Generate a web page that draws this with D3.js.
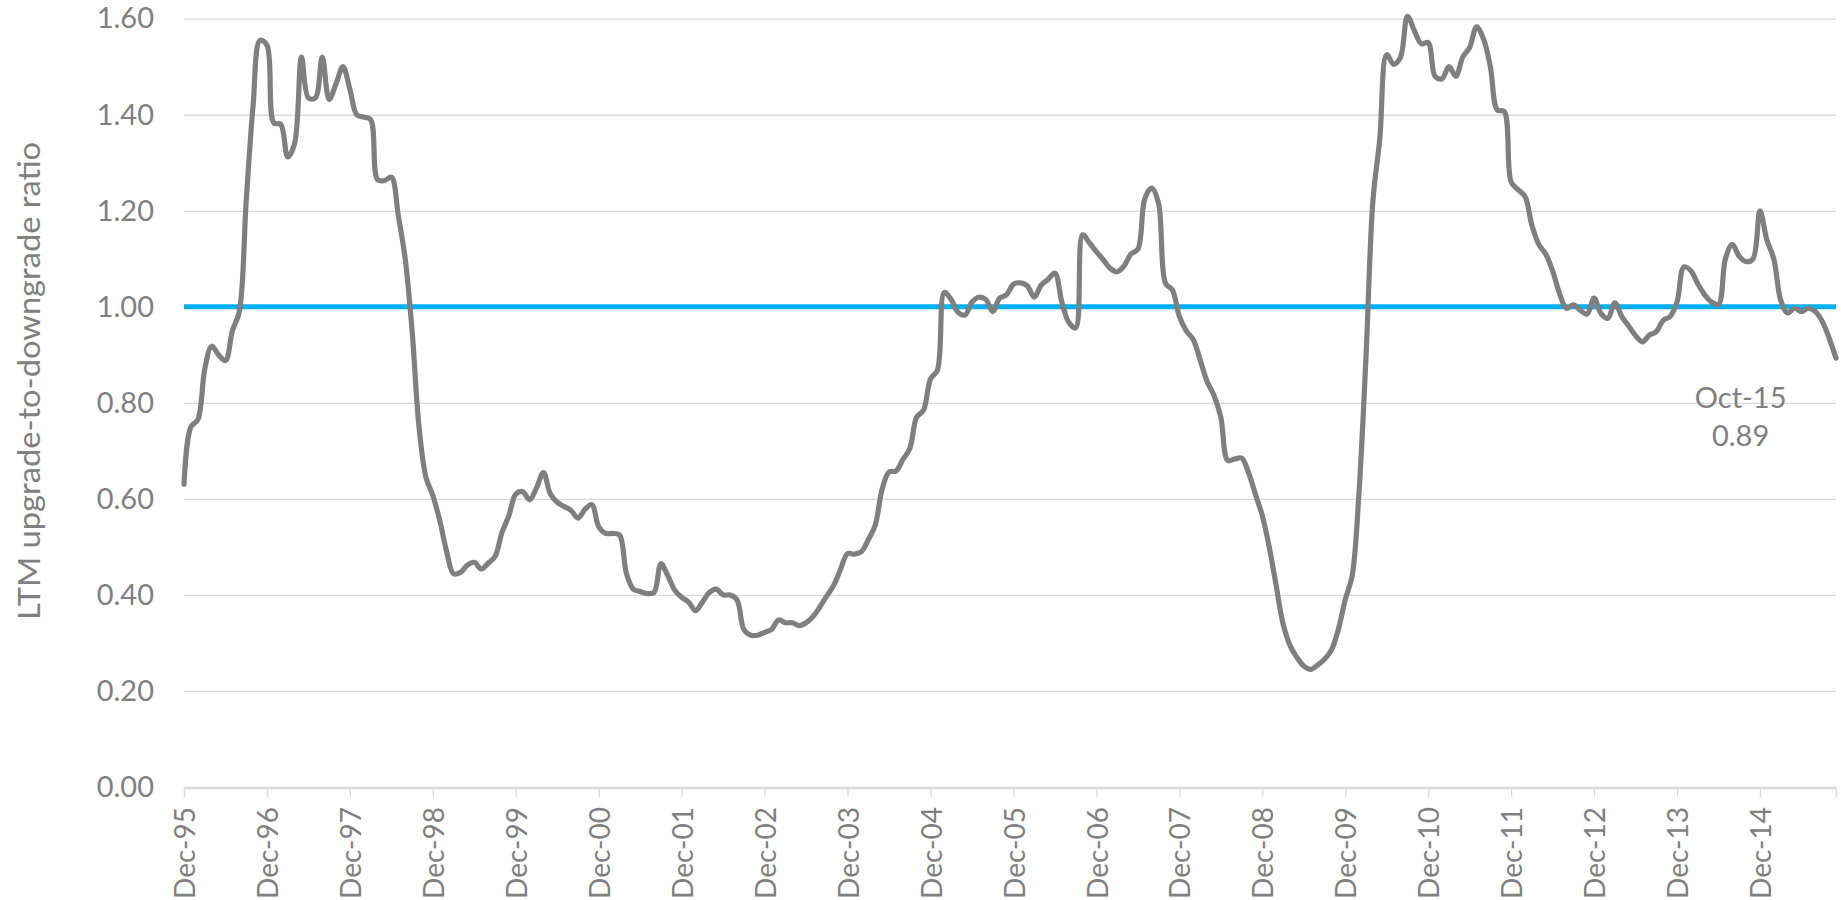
<!DOCTYPE html>
<html>
<head>
<meta charset="utf-8">
<script src="https://cdn.jsdelivr.net/npm/d3@7"></script>
<style>
  html, body { margin: 0; padding: 0; background: #ffffff; }
  svg { display: block; font-family: Lato, "Open Sans", sans-serif; }
</style>
</head>
<body>
<svg id="chart" width="1841" height="900"></svg>
<script>
// Monthly LTM upgrade-to-downgrade ratio, starting Dec-95
const ratioValues = [
  0.63, 0.75, 0.765, 0.87, 0.918, 0.90, 0.888, 0.95, 0.99, 1.22,
  1.42, 1.555, 1.545, 1.383, 1.38, 1.312, 1.34, 1.52, 1.435, 1.435,
  1.52, 1.432, 1.465, 1.50, 1.453, 1.40, 1.395, 1.39, 1.265, 1.263,
  1.27, 1.19, 1.10, 0.95, 0.75, 0.645, 0.607, 0.555, 0.49, 0.444,
  0.447, 0.462, 0.468, 0.454, 0.466, 0.48, 0.53, 0.565, 0.61, 0.615,
  0.598, 0.623, 0.655, 0.61, 0.593, 0.584, 0.576, 0.56, 0.578, 0.588,
  0.542, 0.528, 0.528, 0.525, 0.445, 0.412, 0.407, 0.403, 0.405, 0.465,
  0.44, 0.41, 0.395, 0.385, 0.367, 0.385, 0.405, 0.412, 0.40, 0.40,
  0.39, 0.328, 0.316, 0.316, 0.322, 0.328, 0.348, 0.342, 0.342, 0.336,
  0.342, 0.355, 0.375, 0.398, 0.42, 0.454, 0.486, 0.485, 0.49, 0.515,
  0.545, 0.62, 0.656, 0.658, 0.682, 0.705, 0.77, 0.785, 0.85, 0.868,
  1.03, 1.015, 0.988, 0.983, 1.01, 1.02, 1.015, 0.99, 1.018, 1.025,
  1.047, 1.05, 1.044, 1.02, 1.045, 1.057, 1.07, 1.01, 0.968, 0.956,
  1.15, 1.133, 1.115, 1.098, 1.08, 1.073, 1.085, 1.11, 1.12, 1.225,
  1.247, 1.215, 1.049, 1.035, 0.98, 0.95, 0.932, 0.89, 0.845, 0.816,
  0.77, 0.68, 0.683, 0.685, 0.655, 0.61, 0.565, 0.50, 0.42, 0.34,
  0.295, 0.27, 0.252, 0.245, 0.254, 0.266, 0.285, 0.328, 0.39, 0.44,
  0.616, 0.895, 1.22, 1.35, 1.525, 1.505, 1.52, 1.605, 1.575, 1.548,
  1.55, 1.48, 1.475, 1.50, 1.48, 1.52, 1.54, 1.583, 1.558, 1.50,
  1.41, 1.407, 1.26, 1.244, 1.23, 1.17, 1.13, 1.11, 1.075, 1.028,
  0.997, 1.004, 0.993, 0.985, 1.018, 0.986, 0.976, 1.008, 0.98, 0.96,
  0.94, 0.927, 0.941, 0.948, 0.972, 0.98, 1.01, 1.083, 1.075, 1.048,
  1.025, 1.01, 1.005, 1.10, 1.13, 1.105, 1.094, 1.10, 1.2, 1.139,
  1.10, 1.014, 0.987, 0.997, 0.99, 0.997, 0.99, 0.97, 0.935, 0.893
];
const xTickLabels = ["Dec-95","Dec-96","Dec-97","Dec-98","Dec-99","Dec-00","Dec-01","Dec-02","Dec-03","Dec-04",
                     "Dec-05","Dec-06","Dec-07","Dec-08","Dec-09","Dec-10","Dec-11","Dec-12","Dec-13","Dec-14"];
const xTickIndex = xTickLabels.map((d, i) => i * 12);
const yTicks = [0, 0.2, 0.4, 0.6, 0.8, 1.0, 1.2, 1.4, 1.6];
const referenceLevel = 1.0;
const yAxisTitle = "LTM upgrade-to-downgrade ratio";
const annotationLines = ["Oct-15", "0.89"];

const svg = d3.select("#chart");
const plotLeft = 184, plotRight = 1836, plotTop = 18.7, plotBottom = 787;
const textColor = "#808080";
const gridColor = "#D9D9D9";

const x = d3.scaleLinear().domain([0, ratioValues.length - 1]).range([plotLeft, plotRight]);
const y = d3.scaleLinear().domain([0, 1.6]).range([plotBottom, plotTop]);

// Y axis with gridlines
const yAxis = svg.append("g")
  .attr("transform", `translate(${plotLeft},0)`)
  .call(d3.axisLeft(y).tickValues(yTicks).tickFormat(d3.format(".2f"))
        .tickSize(-(plotRight - plotLeft)).tickPadding(30));
yAxis.select(".domain").remove();
yAxis.selectAll(".tick line").attr("stroke", gridColor).attr("stroke-width", 1.3);
yAxis.selectAll(".tick text").attr("fill", textColor).style("font-size", "29px")
  .style("font-family", "Lato, 'Open Sans', sans-serif");

// X axis
const xAxis = svg.append("g")
  .attr("transform", `translate(0,${plotBottom + 1})`)
  .call(d3.axisBottom(x).tickValues(xTickIndex).tickFormat((d, i) => xTickLabels[i]).tickSize(9));
xAxis.select(".domain").attr("stroke", gridColor).attr("stroke-width", 1.3);
xAxis.selectAll(".tick line").attr("stroke", gridColor).attr("stroke-width", 1.3);
xAxis.selectAll(".tick text")
  .attr("fill", textColor).style("font-size", "28px")
  .style("font-family", "Lato, 'Open Sans', sans-serif")
  .attr("transform", "rotate(-90)")
  .attr("x", -19).attr("y", 0).attr("dy", "0.38em")
  .style("text-anchor", "end");

// Reference line at 1.00
svg.append("line")
  .attr("x1", x(0)).attr("x2", x(ratioValues.length - 1))
  .attr("y1", y(referenceLevel)).attr("y2", y(referenceLevel))
  .attr("stroke", "#00B0F0").attr("stroke-width", 5);

// Ratio line
const line = d3.line()
  .x((d, i) => x(i))
  .y(d => y(d))
  .curve(d3.curveCatmullRom.alpha(0.5));
svg.append("path")
  .datum(ratioValues)
  .attr("d", line)
  .attr("fill", "none")
  .attr("stroke", "#7F7F7F")
  .attr("stroke-width", 5.2)
  .attr("stroke-linejoin", "round")
  .attr("stroke-linecap", "round");

// Y axis title
svg.append("text")
  .attr("transform", `translate(40,381) rotate(-90)`)
  .attr("text-anchor", "middle")
  .attr("fill", textColor)
  .style("font-size", "30px")
  .attr("textLength", 478)
  .attr("lengthAdjust", "spacingAndGlyphs")
  .text(yAxisTitle);

// Annotation
const ann = svg.append("text")
  .attr("text-anchor", "middle")
  .attr("fill", textColor)
  .style("font-size", "29px");
ann.append("tspan").attr("x", x(225.2)).attr("y", y(0.79)).text(annotationLines[0]);
ann.append("tspan").attr("x", x(225.2)).attr("y", y(0.71)).text(annotationLines[1]);
</script>
</body>
</html>
